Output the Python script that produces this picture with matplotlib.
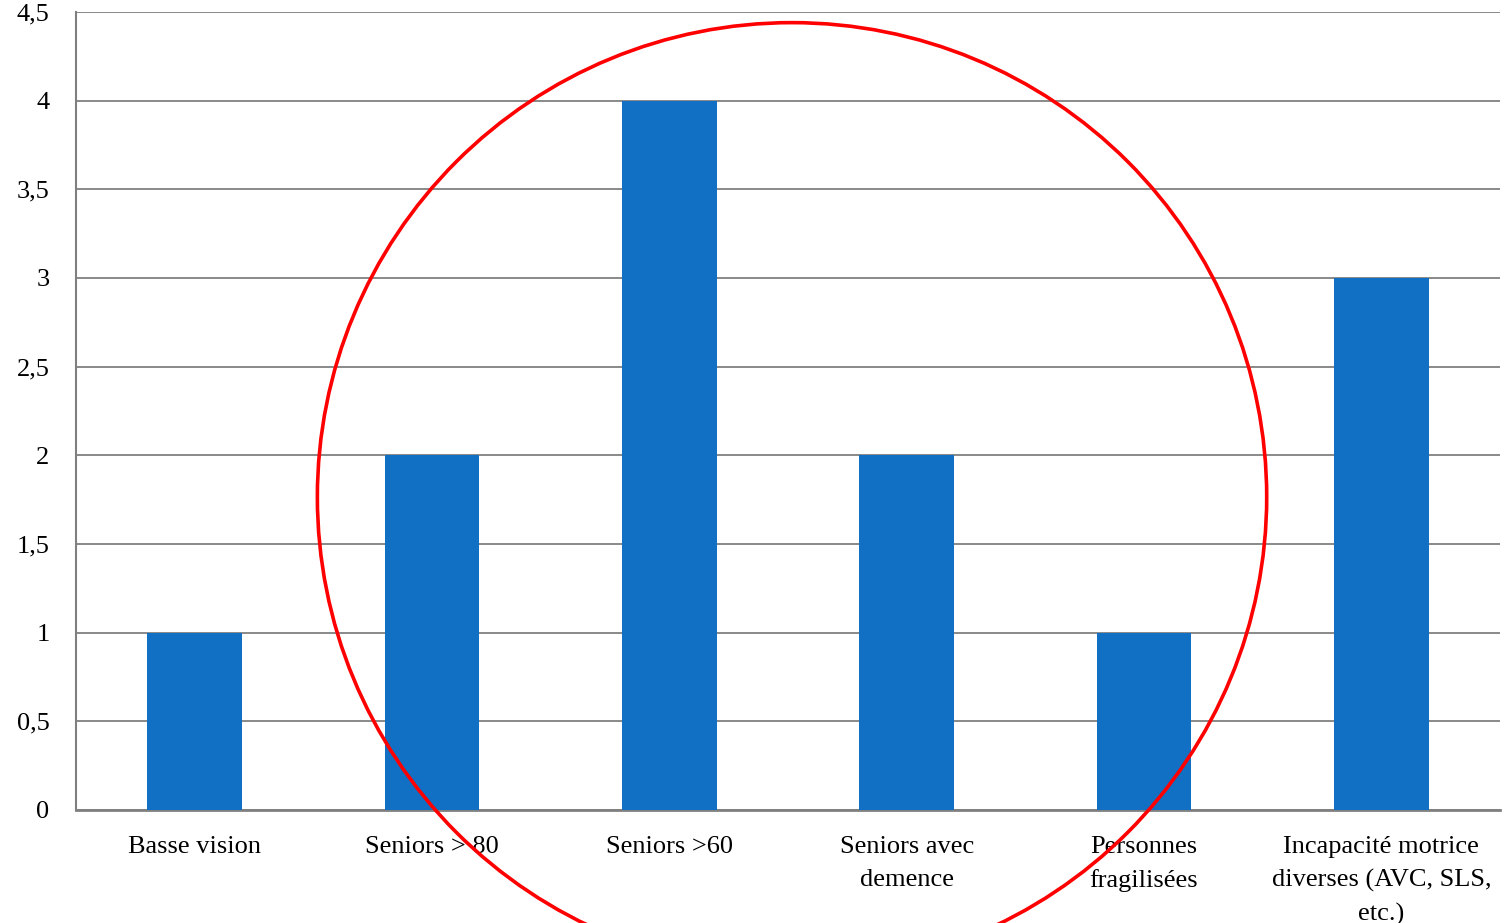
"""Bar chart: public concerné, with highlight circle."""

import matplotlib
matplotlib.use("Agg")
import matplotlib.pyplot as plt
import matplotlib.ticker as mticker
from matplotlib.patches import Ellipse

# Data
CATEGORIES = [
    "Basse vision",
    "Seniors > 80",
    "Seniors >60",
    "Seniors avec\ndemence",
    "Personnes\nfragilisées",
    "Incapacité motrice\ndiverses (AVC, SLS,\netc.)",
]
VALUES = [1, 2, 4, 2, 1, 3]
Y_TICKS = [0, 0.5, 1, 1.5, 2, 2.5, 3, 3.5, 4, 4.5]

BAR_COLOR = "#1170C4"
GRID_COLOR = "#808080"

plt.rcParams.update({
    "font.family": ["Liberation Serif", "DejaVu Serif"],
    "font.size": 19,
})

fig = plt.figure(figsize=(15.05, 9.23), dpi=100)
ax = fig.add_axes([76 / 1505, 1 - 810 / 923, 1424 / 1505, 798 / 923])

x = range(len(CATEGORIES))
ax.bar(x, VALUES, width=0.4, color=BAR_COLOR, zorder=3)

ax.set_xlim(-0.5, len(CATEGORIES) - 0.5)
ax.set_ylim(0, 4.5)
ax.set_yticks(Y_TICKS)
ax.yaxis.set_major_formatter(
    mticker.FuncFormatter(lambda v, _: f"{v:g}".replace(".", ","))
)
ax.set_xticks(list(x))
ax.set_xticklabels(CATEGORIES, linespacing=1.6)
ax.tick_params(axis="both", length=0)
ax.tick_params(axis="y", pad=19)
ax.tick_params(axis="x", pad=19)

ax.grid(axis="y", color=GRID_COLOR, linewidth=1.3, zorder=0)
for side in ("top", "right"):
    ax.spines[side].set_visible(False)
ax.spines["left"].set_color(GRID_COLOR)
ax.spines["left"].set_linewidth(1.5)
ax.spines["bottom"].set_color(GRID_COLOR)
ax.spines["bottom"].set_linewidth(2)

# Red highlight circle around the senior categories
circle = Ellipse((2.517, 1.765), width=4.0, height=5.35, fill=False,
                 edgecolor="#FF0000", linewidth=2.6, clip_on=False, zorder=5)
ax.add_patch(circle)

fig.savefig("out.png", dpi=100)
